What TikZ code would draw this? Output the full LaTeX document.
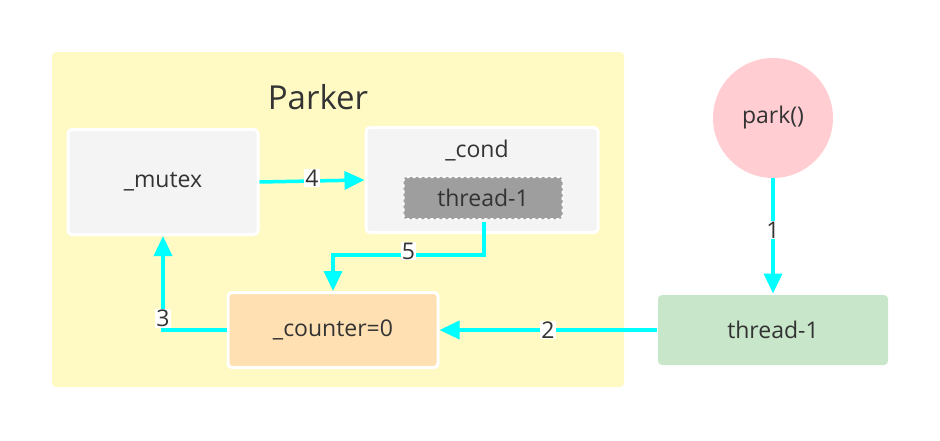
\documentclass[tikz,border=0pt]{standalone}
\usepackage{fontspec}
\setmainfont{Open Sans}
\usetikzlibrary{arrows.meta}
\definecolor{txt}{HTML}{333333}
\definecolor{cy}{HTML}{00FFFF}
\tikzset{
 box/.style={draw=white,line width=3pt,rounded corners=4pt,text=txt,font=\fontsize{23}{26}\selectfont},
 arr/.style={draw=cy,line width=3.5pt,-{Triangle[length=20pt,width=18pt]}},
 lab/.style={fill=white,inner sep=1pt,text=txt,font=\fontsize{23}{26}\selectfont},
}
\begin{document}
\begin{tikzpicture}[x=1pt,y=-1pt]
\useasboundingbox[fill=white] (0,0) rectangle (940,440);
\fill[fill={rgb,255:red,255;green,249;blue,196},rounded corners=4pt] (52,52) rectangle (624,387);
\node[text=txt,font=\fontsize{33}{38}\selectfont] (title) at (318,97) {Parker};
\node[box,fill={rgb,255:red,244;green,244;blue,244},minimum width=190pt,minimum height=105pt] (mutex) at (163,182) {\_mutex};
\node[box,fill={rgb,255:red,244;green,244;blue,244},minimum width=232pt,minimum height=105pt] (cond) at (482,180) {};
\node[text=txt,font=\fontsize{23}{26}\selectfont] (condl) at (477,151) {\_cond};
\node[box,dashed,line width=2pt,fill={rgb,255:red,158;green,158;blue,158},rounded corners=3pt,minimum width=159pt,minimum height=42pt] (t1in) at (483,198) {thread-1};
\node[box,fill={rgb,255:red,255;green,224;blue,178},minimum width=210pt,minimum height=75pt] (counter) at (333,330) {\_counter=0};
\node[circle,fill={rgb,255:red,255;green,205;blue,210},minimum size=120pt,text=txt,font=\fontsize{23}{26}\selectfont] (park) at (773,118) {park()};
\node[box,draw=none,fill={rgb,255:red,200;green,230;blue,201},minimum width=230pt,minimum height=70pt] (t1) at (773,330) {thread-1};
\draw[arr] (park.south) -- (t1.north) node[lab,pos=0.45] {1};
\draw[arr] (t1.west) -- (counter.east) node[lab,midway] {2};
\draw[arr] (counter.west) -- (163,330) -- (mutex.south) node[lab,pos=0.12] {3};
\draw[arr] (mutex.east) -- (cond.west) node[lab,midway,yshift=3pt] {4};
\draw[arr] (484,222) -- (484,255) -- (333,255) node[lab,pos=0.5,yshift=4pt] {5} -- (counter.north);
\end{tikzpicture}
\end{document}
